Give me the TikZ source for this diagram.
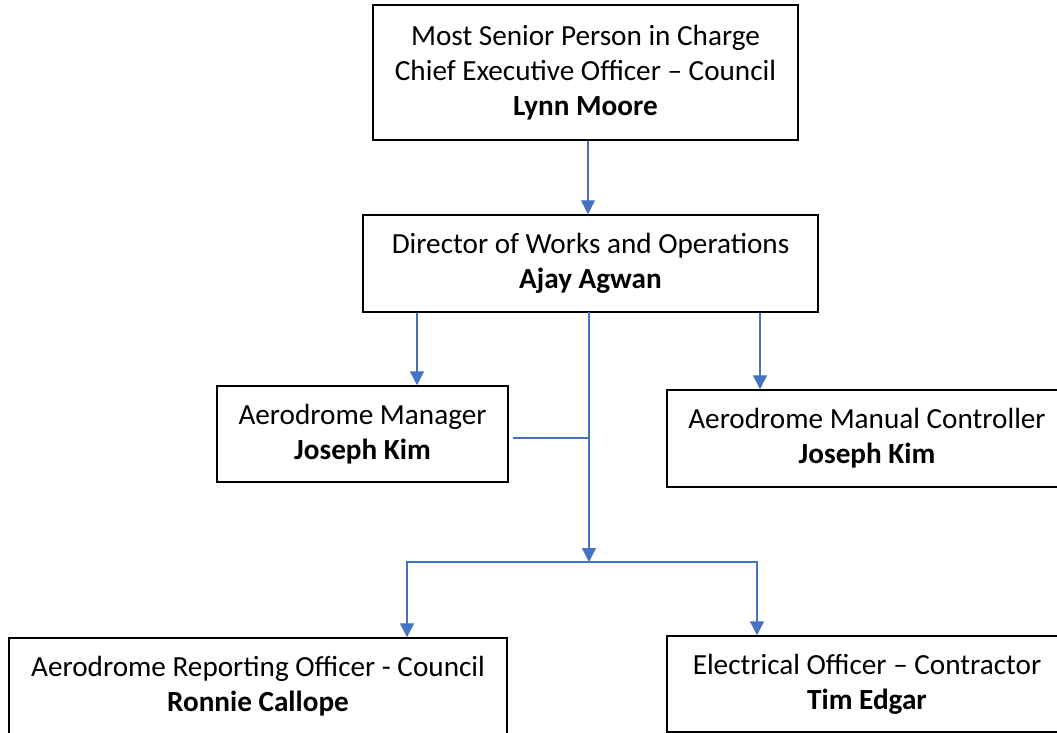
\documentclass[tikz,border=0pt]{standalone}
\usepackage{fontspec}
\setmainfont{Carlito}
\usetikzlibrary{arrows.meta}
\definecolor{linkblue}{HTML}{4472C4}
\begin{document}
\begin{tikzpicture}[x=1pt, y=-1pt,
        cargo/.style={draw=black, line width=1.5pt, align=center, inner sep=0pt,
            font=\fontsize{29.2}{35}\selectfont},
        enlace/.style={draw=linkblue, line width=1.4pt},
        flecha/.style={enlace, -{Triangle[length=14pt,width=14pt]}}]
        \clip (0,0) rectangle (1057,733);
        % Cargos
        \node[cargo, minimum width=425pt, minimum height=135pt] (ceo) at (585.5,72.5)
            {Most Senior Person in Charge\\Chief Executive Officer – Council\\\textbf{Lynn Moore}};
        \node[cargo, minimum width=455pt, minimum height=97pt] (dir) at (590.5,263.5)
            {Director of Works and Operations\\\textbf{Ajay Agwan}};
        \node[cargo, minimum width=291pt, minimum height=96pt] (mgr) at (362.5,434)
            {Aerodrome Manager\\\textbf{Joseph Kim}};
        \node[cargo, minimum width=400pt, minimum height=97pt] (ctl) at (867,438.5)
            {Aerodrome Manual Controller\\\textbf{Joseph Kim}};
        \node[cargo, minimum width=498pt, minimum height=97pt] (rep) at (258,686.5)
            {Aerodrome Reporting Officer - Council\\\textbf{Ronnie Callope}};
        \node[cargo, minimum width=400pt, minimum height=96pt] (ele) at (867,684)
            {Electrical Officer – Contractor\\\textbf{Tim Edgar}};
        % Enlaces
        \coordinate (top) at (589,312);
        \coordinate (split) at (589,562);
        \draw[flecha] ([xshift=2.5pt]ceo.south) -- ([xshift=2.5pt]ceo.south |- dir.north);
        \draw[flecha] ([xshift=54.5pt]mgr.north |- dir.south) -- ([xshift=54.5pt]mgr.north);
        \draw[flecha] ([xshift=-107pt]ctl.north |- dir.south) -- ([xshift=-107pt]ctl.north);
        \draw[flecha] (top) -- (split);
        \draw[enlace] ([xshift=4pt,yshift=-4pt]mgr.east) -- ([yshift=-4pt]mgr.east -| top);
        \draw[flecha] (split) -| ([xshift=149pt]rep.north);
        \draw[flecha] (split) -| ([xshift=-110pt]ele.north);
\end{tikzpicture}
\end{document}
